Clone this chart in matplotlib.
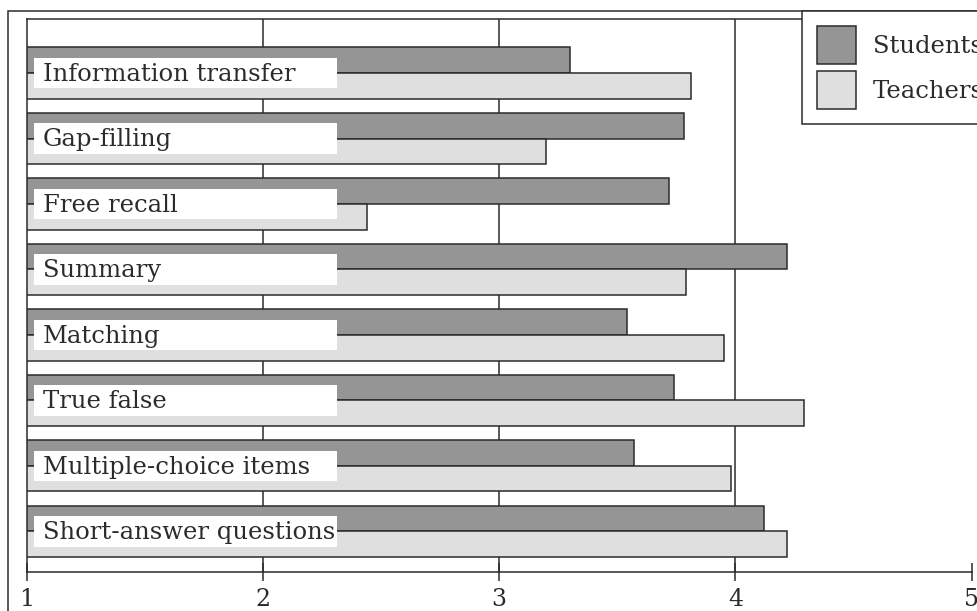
import matplotlib
matplotlib.use("Agg")
import matplotlib.pyplot as plt
import matplotlib.transforms as mtransforms
from matplotlib.patches import Rectangle
import numpy as np

categories = ["Information transfer", "Gap-filling", "Free recall", "Summary",
              "Matching", "True false", "Multiple-choice items",
              "Short-answer questions"]
students = [3.30, 3.78, 3.72, 4.22, 3.54, 3.74, 3.57, 4.12]
teachers = [3.81, 3.20, 2.44, 3.79, 3.95, 4.29, 3.98, 4.22]
xticks = [1, 2, 3, 4, 5]

DARK = "#2b2b2b"
plt.rcParams["font.family"] = ["DejaVu Serif"]
plt.rcParams["text.color"] = DARK

fig = plt.figure(figsize=(9.78, 6.11), dpi=100)
ax = fig.add_axes([0.0273, 0.0638, 0.9663, 0.9051])

y = np.arange(len(categories))
h = 0.39
ax.barh(y - h / 2, students, height=h, left=0, color="#959595",
        edgecolor=DARK, linewidth=1.1, label="Students", zorder=2)
ax.barh(y + h / 2, teachers, height=h, left=0, color="#dfdfdf",
        edgecolor=DARK, linewidth=1.1, label="Teachers", zorder=2)

# vertical lines at inner ticks
ax.vlines(xticks[1:-1], -1, len(categories) + 1, color=DARK, lw=1.1, zorder=1)

# white label boxes over the bars
trans = mtransforms.blended_transform_factory(ax.transAxes, ax.transData)
for i, name in enumerate(categories):
    ax.add_patch(Rectangle((0.0077, i - 0.235), 0.321, 0.47, transform=trans,
                           facecolor="white", edgecolor="none", zorder=3))
    ax.text(0.017, i + 0.02, name, transform=trans, va="center", ha="left",
            fontsize=17.5, zorder=4)

ax.set_xlim(1, 5)
ax.set_ylim(7.62, -0.825)
ax.set_xticks(xticks)
ax.set_yticks([])
ax.tick_params(axis="x", direction="inout", length=13.5, width=1.1,
               color=DARK, labelsize=17, pad=5, labelcolor=DARK)
for s in ["left", "top", "bottom"]:
    ax.spines[s].set_color(DARK)
    ax.spines[s].set_linewidth(1.1)
ax.spines["right"].set_visible(False)

# outer frame
fig.patches.append(Rectangle((8 / 978, -0.2), 1.2, 1.2 - 11 / 611,
                             transform=fig.transFigure, fill=False,
                             edgecolor=DARK, lw=1.1, zorder=0))

leg = fig.legend(loc="upper left", bbox_to_anchor=(802 / 978, 1 - 11 / 611),
                 borderaxespad=0, fontsize=17.5, fancybox=False, framealpha=1,
                 edgecolor=DARK, handlelength=1.6, handleheight=2.03,
                 handletextpad=0.7, labelspacing=0.29, borderpad=0.62)
leg.get_frame().set_linewidth(1.1)

fig.savefig("out.png", dpi=100)
